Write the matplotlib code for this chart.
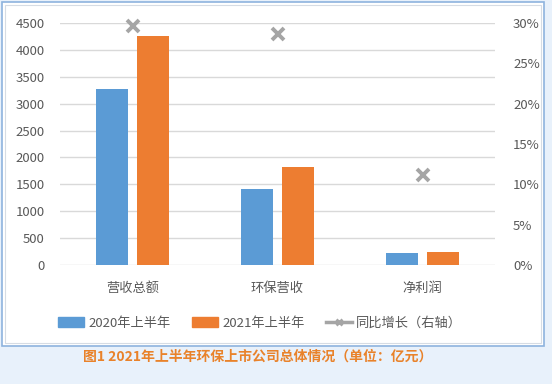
import matplotlib
matplotlib.use('Agg')
import numpy as np
from matplotlib import pyplot as plt
from matplotlib.patches import Rectangle, Patch
from matplotlib.lines import Line2D
from matplotlib.ticker import PercentFormatter

plt.rcParams['font.family'] = ['Noto Sans CJK SC', 'DejaVu Sans']

#### D A T A ####
categories = ['营收总额', '环保营收', '净利润']
h1_2020 = [3270, 1410, 215]
h1_2021 = [4250, 1820, 250]
yoy_growth = [0.296, 0.286, 0.112]
series_names = ['2020年上半年', '2021年上半年', '同比增长（右轴）']
caption = '图1 2021年上半年环保上市公司总体情况（单位：亿元）'

BLUE = '#5B9BD5'
ORANGE = '#ED7D31'
GRAY = '#A5A5A5'
TEXT = '#595959'
GRID = '#D9D9D9'

W, H = 552, 384
fig = plt.figure(figsize=(W / 100, H / 100), dpi=100)
fig.patch.set_facecolor('#E8F1FB')

# white panel with thin borders (behind the axes)
def fx(px): return px / W
def fy(py): return 1 - py / H
fig.patches.append(Rectangle((fx(2), fy(346)), fx(544) - fx(2), fy(2) - fy(346),
                             transform=fig.transFigure, facecolor='white',
                             edgecolor='#8DB3DE', lw=1.2, zorder=-10))
fig.patches.append(Rectangle((fx(5), fy(343)), fx(541) - fx(5), fy(5) - fy(343),
                             transform=fig.transFigure, facecolor='none',
                             edgecolor='#D6DCE4', lw=0.8, zorder=-9))

ax = fig.add_axes([fx(60), fy(265), fx(495) - fx(60), fy(23) - fy(265)])
ax.set_facecolor('none')
x = np.arange(len(categories))
bw = 0.22
ax.bar(x - 0.141, h1_2020, bw, color=BLUE, zorder=3)
ax.bar(x + 0.141, h1_2021, bw, color=ORANGE, zorder=3)
ax.set_xlim(-0.5, 2.5)
ax.set_ylim(0, 4500)
ax.set_yticks(np.arange(0, 4501, 500))
ax.grid(axis='y', color=GRID, lw=1.0, zorder=0)
ax.set_xticks(x)
ax.set_xticklabels(categories)
for s in ax.spines.values():
    s.set_visible(False)
ax.tick_params(axis='both', length=0, colors=TEXT, labelsize=9.5)
ax.tick_params(axis='x', pad=12, labelsize=9.5)
ax.tick_params(axis='y', pad=11)

ax2 = ax.twinx()
ax2.plot(x, yoy_growth, linestyle='none', marker='x', color=GRAY,
         markersize=8, mew=2.8, zorder=4, clip_on=False)
ax2.set_ylim(0, 0.30)
ax2.set_yticks(np.arange(0, 0.301, 0.05))
ax2.yaxis.set_major_formatter(PercentFormatter(1.0, decimals=0))
for s in ax2.spines.values():
    s.set_visible(False)
ax2.tick_params(axis='y', length=0, colors=TEXT, labelsize=9.5, pad=13)

handles = [Patch(color=BLUE), Patch(color=ORANGE),
           Line2D([0], [0], color=GRAY, lw=2.5, marker='x', markersize=5, mew=2)]
leg = fig.legend(handles, series_names, loc='center', ncol=3, frameon=False,
                 bbox_to_anchor=(fx(260), fy(323)), fontsize=9.5,
                 handlelength=2.0, handleheight=0.8, handletextpad=0.3, columnspacing=1.6)
for t in leg.get_texts():
    t.set_color(TEXT)

fig.text(fx(258), fy(357), caption, ha='center', va='center', fontsize=10,
         fontweight='bold', color='#E9822A')

plt.savefig('out.png', dpi=100, facecolor=fig.get_facecolor())
